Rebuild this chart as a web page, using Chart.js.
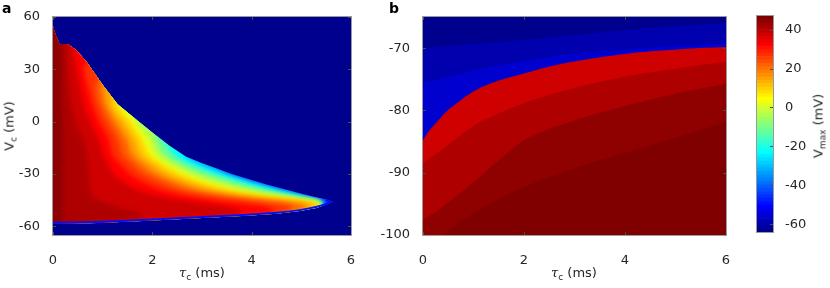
<!DOCTYPE html>
<html>
<head>
<meta charset="utf-8">
<script src="https://cdn.jsdelivr.net/npm/chart.js@4.4.1/dist/chart.umd.min.js"></script>
<style>
  html, body { margin: 0; padding: 0; background: #fff; }
  #wrap { position: relative; width: 830px; height: 288px; overflow: hidden; color: #262626;
          font-family: "DejaVu Sans", sans-serif; }
  canvas { position: absolute; top: 0; }
  .lbl { position: absolute; font-size: 13px; line-height: 1; white-space: nowrap; }
  .pan { font-weight: bold; font-size: 14px; color: #000; }
  .cx { transform: translateX(-50%); }
  .rot { transform: translate(-50%, -50%) rotate(-90deg); }
  .tau { font-family: "DejaVu Serif", serif; font-style: italic; }
  .sb { font-size: 9px; position: relative; top: 3px; }
</style>
</head>
<body>
<div id="wrap">
  <canvas id="chA" width="375" height="288" style="left:0"></canvas>
  <canvas id="chB" width="375" height="288" style="left:375px"></canvas>
  <canvas id="chC" width="90" height="288" style="left:740px"></canvas>
  <div class="lbl pan" style="left:2px;top:1px">a</div>
  <div class="lbl pan" style="left:389px;top:1px">b</div>
  <div class="lbl cx" style="left:202px;top:266px"><span class="tau">τ</span><span class="sb">c</span> (ms)</div>
  <div class="lbl cx" style="left:574px;top:266px"><span class="tau">τ</span><span class="sb">c</span> (ms)</div>
  <div class="lbl rot" style="left:9px;top:126px">V<span class="sb">c</span> (mV)</div>
  <div class="lbl rot" style="left:818px;top:126px">V<span class="sb">max</span> (mV)</div>
</div>
<script>
/* ── axes ── */
const tauTicks  = [0, 2, 4, 6];
const vTicksA   = [-60, -30, 0, 30, 60];
const vTicksB   = [-100, -90, -80, -70];
const cbarTicks = [-60, -40, -20, 0, 20, 40];
const cLim      = [-64, 47];

/* ── panel a: contour positions tau (ms) read at these Vc rows (mV) ── */
const vGridA  = [-65, -58, -55, -52, -49, -46, -43, -40, -35, -30, -25, -20, -10, 0, 10, 20, 30, 40, 50, 60];
const levelsA = [-50, -38, -28, -18, -9, 0, 6, 12, 18, 24, 30, 35, 39, 43];
const topValA = 45;
// edge of the spiking region (tau, Vc)
const bndA = [[0,-65],[0,-58.6],[0.9,-58.1],[1.8,-57],[2.5,-56],[3.2,-55],[3.9,-54],[4.5,-52.8],[4.97,-51.3],
  [5.3,-49.5],[5.52,-47.5],[5.64,-45.9],[5.5,-44.5],[5.25,-43],[4.97,-41],[4.3,-36],[3.63,-30.3],[3.0,-23.8],
  [2.68,-20.2],[2.35,-14],[2.01,-6.5],[1.68,1.1],[1.3,10],[1.0,21],[0.67,34.5],[0.47,41],[0.3,44.4],
  [0.13,44.5],[0.05,50],[0,54.5],[0,60]];
const isoAm38 = [0, 1.0, 3.2, 4.7, 5.4, 5.45, 5.12, 4.75, 4.12, 3.55, 3.3, 3.0, 2.5, 2.0, 1.6, 1.3, 1.0, 0.8, 0.3, 0];
const isoAm28 = [0, 1.0, 3.2, 4.7, 5.4, 5.4, 5.05, 4.62, 4.0, 3.45, 3.0, 2.68, 2.5, 2.0, 1.6, 1.3, 1.0, 0.8, 0.3, 0];
const isoAm18 = [0, 1.0, 3.2, 4.7, 5.4, 5.37, 4.95, 4.45, 3.8, 3.25, 2.8, 2.48, 2.25, 2.0, 1.6, 1.3, 1.0, 0.8, 0.3, 0];
const isoAm9  = [0, 1.0, 3.2, 4.7, 5.4, 5.34, 4.8, 4.22, 3.55, 3.0, 2.6, 2.3, 2.08, 2.0, 1.6, 1.3, 1.0, 0.8, 0.3, 0];
const isoA0   = [0, 1.0, 3.2, 4.7, 5.4, 5.3, 4.6, 3.95, 3.25, 2.75, 2.4, 2.12, 1.93, 1.68, 1.6, 1.3, 1.0, 0.8, 0.3, 0];
const isoA6   = [0, 1.0, 3.2, 4.7, 5.4, 5.22, 4.35, 3.68, 3.0, 2.55, 2.22, 1.97, 1.78, 1.55, 1.3, 1.3, 1.0, 0.8, 0.3, 0];
const isoA12  = [0, 1.0, 3.2, 4.7, 5.25, 5.0, 4.05, 3.38, 2.75, 2.32, 2.03, 1.8, 1.63, 1.4, 1.17, 1.2, 1.0, 0.8, 0.3, 0];
const isoA18  = [0, 1.0, 3.2, 4.7, 5.1, 4.6, 3.7, 3.05, 2.48, 2.08, 1.83, 1.62, 1.47, 1.25, 1.05, 1.0, 1.0, 0.8, 0.3, 0];
const isoA24  = [0, 1.0, 3.2, 4.7, 4.8, 4.1, 3.3, 2.7, 2.2, 1.83, 1.62, 1.43, 1.3, 1.1, 0.93, 0.86, 1.0, 0.8, 0.3, 0];
const isoA30  = [0, 1.0, 3.2, 4.45, 4.3, 3.5, 2.8, 2.3, 1.85, 1.55, 1.38, 1.22, 1.12, 0.93, 0.8, 0.7, 0.62, 0.8, 0.3, 0];
const isoA35  = [0, 1.0, 3.2, 3.8, 3.5, 2.8, 2.2, 1.8, 1.45, 1.22, 1.12, 1.02, 0.92, 0.75, 0.62, 0.55, 0.48, 0.42, 0.3, 0];
const isoA39  = [0, 1.0, 1.8, 1.7, 1.3, 1.0, 0.8, 0.75, 0.72, 0.72, 0.7, 0.68, 0.6, 0.45, 0.36, 0.32, 0.3, 0.28, 0.3, 0];
const isoA43  = [0, 0.2, 0.2, 0.2, 0.2, 0.2, 0.2, 0.2, 0.2, 0.2, 0.2, 0.2, 0.2, 0.2, 0.18, 0.18, 0.18, 0.18, 0.1, 0];
const isoA = [isoAm38, isoAm28, isoAm18, isoAm9, isoA0, isoA6, isoA12, isoA18, isoA24, isoA30, isoA35, isoA39, isoA43];

/* ── panel b: contour edges Vc (mV) read at these tau columns (ms) ── */
const tauGridB = [0, 0.25, 0.5, 1, 1.5, 2, 3, 4, 5, 6];
const bgValB   = -63.5;
const edgeB1 = [-70, -69.8, -69.6, -69.3, -69.0, -68.7, -67.9, -67.1, -66.5, -66];
const edgeB2 = [-75.5, -75.1, -74.6, -73.6, -72.8, -72.1, -70.9, -70.2, -69.6, -69.2];
const bndB   = [[0,-84.8],[0.1,-83.5],[0.25,-82.1],[0.45,-80.3],[0.66,-78.9],[0.99,-77],[1.32,-75.7],
  [1.98,-74.1],[2.64,-72.7],[3.58,-71.4],[4.24,-70.7],[4.9,-70.3],[5.56,-69.95],[6,-69.8]];
const edgeR1 = [-88.5, -87, -85.5, -82.5, -80.5, -78.8, -76.4, -74.6, -73.3, -72.2];
const edgeR2 = [-97.5, -96.3, -94.8, -91.5, -88, -84.8, -81.6, -79.3, -77.3, -75.7];
const edgeR3 = [-103, -101, -99.2, -96.5, -94.3, -92.3, -89.3, -86.8, -84.4, -81.8];
const edgeR4 = [-110, -108, -106, -103, -101, -99, -95, -91.8, -89.2, -87];
// Vmax of the band lying just below each edge
const bandValsB = [-60, -57, 38, 41, 43.6, 45.3, 47];

/* ── colormap (jet, 64 steps) ── */
function jet(t) {
  const f = x => Math.round(255 * Math.max(0, Math.min(1, 1.5 - Math.abs(x))));
  return `rgb(${f(4 * t - 3)},${f(4 * t - 2)},${f(4 * t - 1)})`;
}
function colorOf(v) {
  let i = Math.floor((v - cLim[0]) / (cLim[1] - cLim[0]) * 64);
  i = Math.max(0, Math.min(63, i));
  return jet((i + 1) / 64);
}

/* ── frame: background, box, inward ticks ── */
const frame = {
  id: 'frame',
  beforeDatasetsDraw(chart, args, opts) {
    if (!opts.bg) return;
    const a = chart.chartArea, c = chart.ctx;
    c.save();
    c.fillStyle = opts.bg;
    c.fillRect(a.left, a.top, a.right - a.left, a.bottom - a.top);
    c.restore();
  },
  afterDraw(chart, args, opts) {
    const a = chart.chartArea, c = chart.ctx, L = 3;
    c.save();
    c.lineWidth = 1;
    c.strokeStyle = '#4d4d4d';
    c.beginPath();
    if (opts.xTicks) {
      chart.scales.x.ticks.forEach(t => {
        const p = Math.round(chart.scales.x.getPixelForValue(t.value)) + 0.5;
        c.moveTo(p, a.bottom); c.lineTo(p, a.bottom - L);
        c.moveTo(p, a.top); c.lineTo(p, a.top + L);
      });
    }
    chart.scales.y.ticks.forEach(t => {
      const p = Math.round(chart.scales.y.getPixelForValue(t.value)) + 0.5;
      if (!opts.rightOnly) { c.moveTo(a.left, p); c.lineTo(a.left + L, p); }
      c.moveTo(a.right, p); c.lineTo(a.right - L, p);
    });
    c.stroke();
    c.strokeStyle = '#9a9a9a';
    c.strokeRect(Math.round(a.left) - 0.5, Math.round(a.top) - 0.5,
                 Math.round(a.right - a.left) + 1, Math.round(a.bottom - a.top) + 1);
    c.restore();
  }
};

/* ── clip panel a's contour fills to the spiking-region edge, soften band steps ── */
const clipToEdge = {
  id: 'clipToEdge',
  beforeDatasetsDraw(chart) {
    const sx = chart.scales.x, sy = chart.scales.y, c = chart.ctx;
    c.save();
    c.beginPath();
    bndA.forEach((p, i) => {
      const X = sx.getPixelForValue(p[0]), Y = sy.getPixelForValue(p[1]);
      if (i) c.lineTo(X, Y); else c.moveTo(X, Y);
    });
    c.closePath();
    c.clip();
    c.filter = 'blur(2.5px)';
  },
  beforeDatasetDraw(chart, args) {
    if (!chart.data.datasets[args.index].fill) chart.ctx.filter = 'none';
  },
  afterDatasetsDraw(chart) { chart.ctx.filter = 'none'; chart.ctx.restore(); }
};

const tickFont = { family: 'DejaVu Sans', size: 13 };
const tickColor = '#262626';
const lineBase = { borderWidth: 0, pointRadius: 0, pointHitRadius: 0, borderColor: 'rgba(0,0,0,0)',
                   cubicInterpolationMode: 'monotone' };

function axisX(ticks) {
  return {
    type: 'linear', min: 0, max: 6,
    grid: { display: false }, border: { display: false },
    ticks: { font: tickFont, color: tickColor, padding: 10, maxRotation: 0 },
    afterBuildTicks: s => { s.ticks = ticks.map(v => ({ value: v })); },
    afterFit: s => { s.height = 53; }
  };
}
function axisY(min, max, ticks, w) {
  return {
    type: 'linear', min, max,
    grid: { display: false }, border: { display: false },
    ticks: { font: tickFont, color: tickColor, padding: 5 },
    afterBuildTicks: s => { s.ticks = ticks.map(v => ({ value: v })); },
    afterFit: s => { s.width = w; }
  };
}

/* ── Chart a ── */
const dsA = [];
dsA.push(Object.assign({}, lineBase, {
  data: bndA.map(p => ({ x: p[0] + 0.3, y: p[1] })),
  fill: { value: -1 }, backgroundColor: colorOf((levelsA[0] + levelsA[1]) / 2), order: 200
}));
isoA.forEach((arr, k) => {
  const lo = levelsA[k + 1];
  const hi = k + 2 < levelsA.length ? levelsA[k + 2] : null;
  const v = hi === null ? topValA : (lo + hi) / 2;
  dsA.push(Object.assign({}, lineBase, {
    data: arr.map((t, j) => ({ x: t, y: vGridA[j] })),
    fill: { value: -1 }, backgroundColor: colorOf(v), order: 150 - k
  }));
});
// thin blue rim along the lower edge
dsA.push(Object.assign({}, lineBase, {
  data: bndA.slice(1, 13).map(p => ({ x: p[0], y: p[1] })),
  fill: false, borderWidth: 4, borderColor: colorOf(-50), order: 0
}));

new Chart(document.getElementById('chA'), {
  type: 'line',
  data: { datasets: dsA },
  options: {
    responsive: false, animation: false, events: [], indexAxis: 'y',
    layout: { padding: { left: 0, right: 24, top: 17, bottom: 0 } },
    plugins: { legend: { display: false }, tooltip: { enabled: false },
               frame: { bg: colorOf(cLim[0]), xTicks: true } },
    scales: { x: axisX(tauTicks), y: axisY(-65, 60, vTicksA, 53) }
  },
  plugins: [frame, clipToEdge]
});

/* ── Chart b ── */
const edgesB = [edgeB1, edgeB2, null, edgeR1, edgeR2, edgeR3, edgeR4];
const dsB = edgesB.map((arr, k) => Object.assign({}, lineBase, {
  data: arr ? arr.map((v, j) => ({ x: tauGridB[j], y: v })) : bndB.map(p => ({ x: p[0], y: p[1] })),
  fill: { value: -130 }, backgroundColor: colorOf(bandValsB[k]), order: 100 - k
}));

new Chart(document.getElementById('chB'), {
  type: 'line',
  data: { datasets: dsB },
  options: {
    responsive: false, animation: false, events: [],
    layout: { padding: { left: 0, right: 24, top: 17, bottom: 0 } },
    plugins: { legend: { display: false }, tooltip: { enabled: false },
               frame: { bg: colorOf(bgValB), xTicks: true } },
    scales: { x: axisX(tauTicks), y: axisY(-100, -65, vTicksB, 48) }
  },
  plugins: [frame]
});

/* ── Colorbar ── */
const nCol = 64;
const step = (cLim[1] - cLim[0]) / nCol;
const dsC = [];
for (let i = 0; i < nCol; i++) {
  dsC.push({
    data: [[cLim[0] + i * step, cLim[0] + (i + 1) * step]],
    backgroundColor: jet((i + 1) / nCol), borderWidth: 0
  });
}
new Chart(document.getElementById('chC'), {
  type: 'bar',
  data: { labels: [''], datasets: dsC },
  options: {
    responsive: false, animation: false, events: [],
    datasets: { bar: { grouped: false, barPercentage: 1, categoryPercentage: 1 } },
    layout: { padding: { left: 17, right: 0, top: 16, bottom: 56 } },
    plugins: { legend: { display: false }, tooltip: { enabled: false },
               frame: { rightOnly: true } },
    scales: {
      x: { display: false },
      y: {
        position: 'right', min: cLim[0], max: cLim[1],
        grid: { display: false }, border: { display: false },
        ticks: { font: tickFont, color: tickColor, padding: 4 },
        afterBuildTicks: s => { s.ticks = cbarTicks.map(v => ({ value: v })); },
        afterFit: s => { s.width = 57; }
      }
    }
  },
  plugins: [frame]
});
</script>
</body>
</html>
